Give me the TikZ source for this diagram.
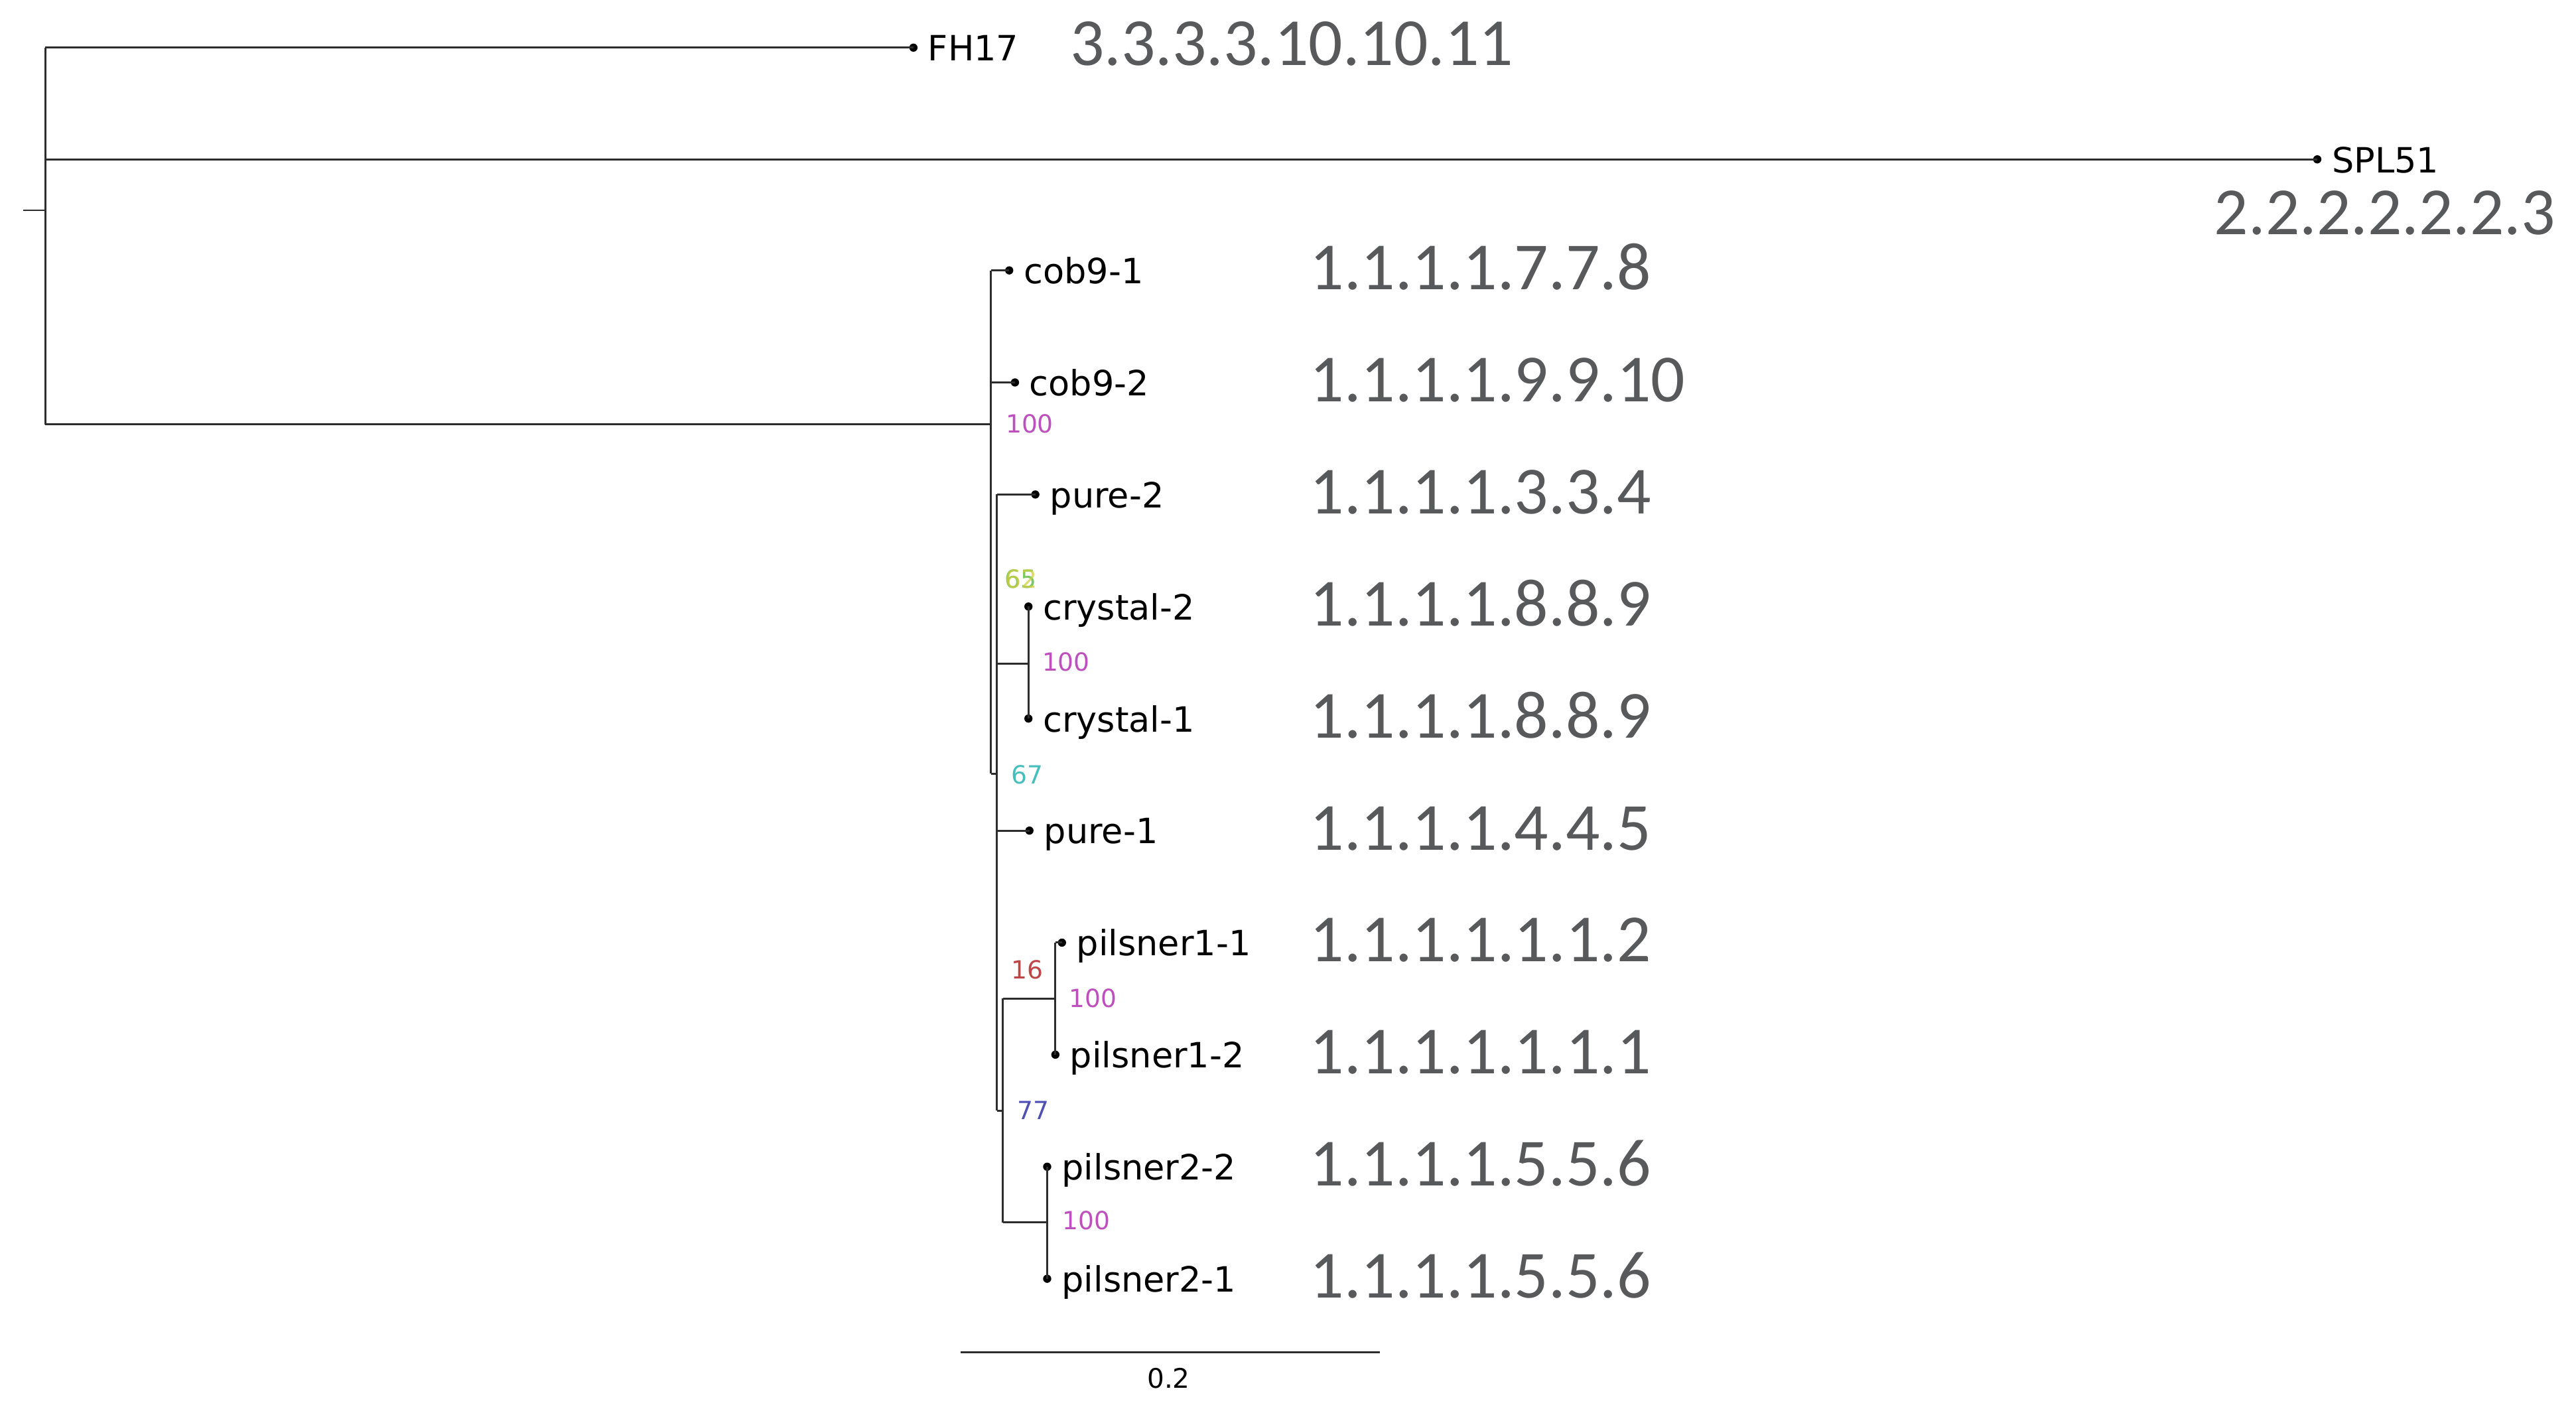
\documentclass[tikz,border=0pt]{standalone}
\usepackage{fontspec}
\setmainfont{DejaVu Sans}
\newfontfamily\numfont{Carlito}
\definecolor{numgray}{RGB}{88,89,91}
\definecolor{bsmag}{RGB}{190,80,190}
\definecolor{bscyan}{RGB}{70,190,190}
\definecolor{bsred}{RGB}{190,70,70}
\definecolor{bsblue}{RGB}{80,80,180}
\definecolor{bsgreen}{RGB}{100,190,70}
\definecolor{bsyellow}{RGB}{205,205,60}
\definecolor{branchcol}{RGB}{45,45,45}
\begin{document}
\begin{tikzpicture}[x=0.5pt,y=-0.5pt,
  treeline/.style={draw=branchcol,line width=0.6pt},
  leafdot/.style={circle,fill=black,inner sep=0pt,minimum size=2.5pt},
  leaflab/.style={anchor=base west,inner sep=0pt,font=\fontsize{10.6}{12}\selectfont},
  bignum/.style={anchor=base west,inner sep=0pt,text=numgray,font=\numfont\fontsize{20.5}{24}\selectfont},
  support/.style={anchor=base west,inner sep=0pt,font=\fontsize{7.6}{9}\selectfont},
]
\useasboundingbox (0,0) rectangle (1568,857.3);

% internal nodes
\coordinate (r0) at (14,128);
\coordinate (r) at (27.5,128);
\coordinate (nA) at (603.2,258.3);
\coordinate (nB) at (606.8,471);
\coordinate (nX) at (626,403.9);
\coordinate (nC) at (610.4,676);
\coordinate (nP1) at (642.4,607.9);
\coordinate (nP2) at (637.4,744.2);

% leaf dots
\node[leafdot] (lFH) at (556,29) {};
\node[leafdot] (lSPL) at (1410.5,97) {};
\node[leafdot] (lc1) at (614.3,164.6) {};
\node[leafdot] (lc2) at (617.8,232.8) {};
\node[leafdot] (lpu2) at (630.2,301) {};
\node[leafdot] (lcr2) at (626,369.2) {};
\node[leafdot] (lcr1) at (626,437.4) {};
\node[leafdot] (lpu1) at (626.6,505.6) {};
\node[leafdot] (lp11) at (646.4,573.8) {};
\node[leafdot] (lp12) at (642.4,642) {};
\node[leafdot] (lp22) at (637.4,710.2) {};
\node[leafdot] (lp21) at (637.4,778.4) {};

% root
\draw[treeline] (r0) -- (r);
\draw[treeline] (r |- lFH) -- (r |- nA);
\draw[treeline] (r |- lFH) -- (lFH.center);
\draw[treeline] (r |- lSPL) -- (lSPL.center);
\draw[treeline] (r |- nA) -- (nA);
% node A
\draw[treeline] (nA |- lc1) -- (nA |- nB);
\draw[treeline] (nA |- lc1) -- (lc1.center);
\draw[treeline] (nA |- lc2) -- (lc2.center);
\draw[treeline] (nA |- nB) -- (nB);
% node B
\draw[treeline] (nB |- lpu2) -- (nB |- nC);
\draw[treeline] (nB |- lpu2) -- (lpu2.center);
\draw[treeline] (nB |- nX) -- (nX);
\draw[treeline] (nB |- lpu1) -- (lpu1.center);
\draw[treeline] (nB |- nC) -- (nC);
% crystal
\draw[treeline] (lcr2.center) -- (lcr1.center);
% node C
\draw[treeline] (nC |- nP1) -- (nC |- nP2);
\draw[treeline] (nC |- nP1) -- (nP1);
\draw[treeline] (nC |- nP2) -- (nP2);
% pilsner1
\draw[treeline] (nP1 |- lp11) -- (lp12.center);
\draw[treeline] (nP1 |- lp11) -- (lp11.center);
% pilsner2
\draw[treeline] (lp22.center) -- (lp21.center);

% leaf labels
\node[leaflab] (tFH) at (564.5,37) {FH17};
\node[leaflab] (tSPL) at (1419,105) {SPL51};
\node[leaflab] (tc1) at (622.8,172.6) {cob9-1};
\node[leaflab] (tc2) at (626.3,240.8) {cob9-2};
\node[leaflab] (tpu2) at (638.7,309) {pure-2};
\node[leaflab] (tcr2) at (634.5,377.2) {crystal-2};
\node[leaflab] (tcr1) at (634.5,445.4) {crystal-1};
\node[leaflab] (tpu1) at (635.1,513.6) {pure-1};
\node[leaflab] (tp11) at (654.9,581.8) {pilsner1-1};
\node[leaflab] (tp12) at (650.9,650) {pilsner1-2};
\node[leaflab] (tp22) at (645.9,718.2) {pilsner2-2};
\node[leaflab] (tp21) at (645.9,786.4) {pilsner2-1};

% big numbers
\node[bignum] (bFH) at (651,39.7) {3.3.3.3.10.10.11};
\node[bignum] (bSPL) at (1347.5,142.7) {2.2.2.2.2.2.3};
\node[bignum] (bc1) at (797,176.3) {1.1.1.1.7.7.8};
\node[bignum] (bc2) at (797,244.5) {1.1.1.1.9.9.10};
\node[bignum] (bpu2) at (797,312.7) {1.1.1.1.3.3.4};
\node[bignum] (bcr2) at (797,380.9) {1.1.1.1.8.8.9};
\node[bignum] (bcr1) at (797,449.1) {1.1.1.1.8.8.9};
\node[bignum] (bpu1) at (797,517.3) {1.1.1.1.4.4.5};
\node[bignum] (bp11) at (797,585.5) {1.1.1.1.1.1.2};
\node[bignum] (bp12) at (797,653.7) {1.1.1.1.1.1.1};
\node[bignum] (bp22) at (797,721.9) {1.1.1.1.5.5.6};
\node[bignum] (bp21) at (797,790.1) {1.1.1.1.5.5.6};

% support values
\node[support,text=bsmag] (sA) at (611.8,263.6) {100};
\node[support,text=bsgreen,opacity=0.85] (sG1) at (611,358) {65};
\node[support,text=bsyellow,opacity=0.75] (sG2) at (611.5,358) {62};
\node[support,text=bsmag] (sX) at (634,408.5) {100};
\node[support,text=bscyan] (sB) at (615.2,477) {67};
\node[support,text=bsred] (sR) at (615.3,595.8) {16};
\node[support,text=bsmag] (sP1) at (650.4,613.2) {100};
\node[support,text=bsblue] (sC) at (618.8,681.6) {77};
\node[support,text=bsmag] (sP2) at (646.4,748.6) {100};

% scale bar
\coordinate (sb1) at (584.6,823);
\coordinate (sb2) at (839.9,823);
\draw[treeline] (sb1) -- (sb2);
\node[anchor=base,inner sep=0pt,font=\fontsize{8.2}{10}\selectfont] (sbl) at (711.3,845) {0.2};
\end{tikzpicture}
\end{document}
